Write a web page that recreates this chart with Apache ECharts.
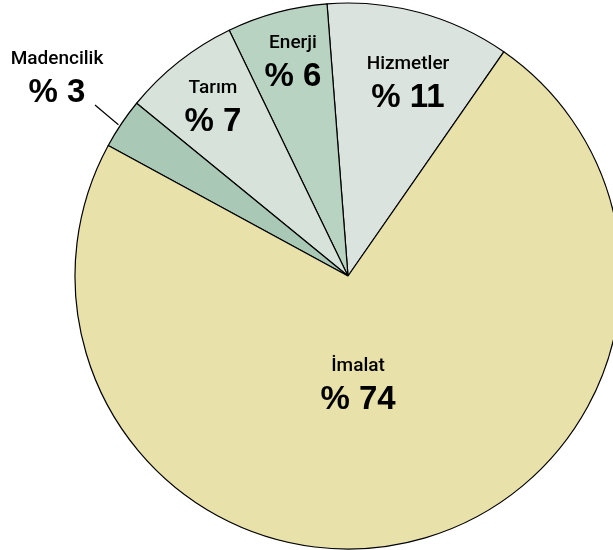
<!DOCTYPE html>
<html>
<head>
    <meta charset="utf-8">
    <script src="https://cdn.jsdelivr.net/npm/echarts@6/dist/echarts.min.js"></script>
</head>
<body style="margin:0;background:#fff;">
<div id="main" style="width: 613px;height:550px;"></div>
<script type="text/javascript">
    // sektör adları ve yüzdeleri (saat yönünün tersine, Hizmetler'den başlayarak)
    var sectors = ['Hizmetler', 'Enerji', 'Tarım', 'Madencilik', 'İmalat'];
    var shares = [11, 6, 7, 3, 74];
    var colors = ['#dae3dd', '#b9d3c3', '#d7e3da', '#a9c9b6', '#e8e1a9'];

    // etiket kutularının merkezleri
    var labelPos = [[408, 83], [293, 62], [213, 107], [57, 78], [358, 385]];

    var myChart = echarts.init(document.getElementById('main'));

    var data = sectors.map(function (name, i) {
        var item = {
            name: name,
            value: shares[i],
            itemStyle: { color: colors[i] }
        };
        if (name === 'Madencilik') {
            item.label = { position: 'outside' };
            item.labelLine = { show: true, length: 30, length2: 0, lineStyle: { color: '#000', width: 1.2 } };
        }
        return item;
    });

    option = {
        animation: false,
        series: [
            {
                type: 'pie',
                center: [348, 276],
                radius: [0, 273],
                startAngle: 55.2,
                clockwise: false,
                avoidLabelOverlap: false,
                itemStyle: { borderColor: '#000', borderWidth: 1.2 },
                emphasis: { disabled: true },
                label: {
                    show: true,
                    position: 'inside',
                    align: 'center',
                    verticalAlign: 'middle',
                    formatter: function (p) {
                        return '{n|' + p.name + '}\n{v|% ' + p.value + '}';
                    },
                    rich: {
                        n: { fontFamily: 'Roboto', fontSize: 19, fontWeight: 500, color: '#000', lineHeight: 30, align: 'center' },
                        v: { fontFamily: 'Liberation Sans', fontSize: 33, fontWeight: 'bold', color: '#000', lineHeight: 38, align: 'center' }
                    }
                },
                labelLine: { show: false },
                labelLayout: function (p) {
                    var pos = labelPos[p.dataIndex];
                    var res = { x: pos[0], y: pos[1], align: 'center', verticalAlign: 'middle' };
                    if (sectors[p.dataIndex] === 'Madencilik' && p.labelLinePoints) {
                        // çizgi dilim kenarından etiketin sağ altına
                        var a = p.labelLinePoints[0];
                        var start = [a[0] - 3, a[1] + 1];
                        var end = [pos[0] + 38, pos[1] + 27];
                        res.labelLinePoints = [start, end, end];
                    }
                    return res;
                },
                data: data
            }
        ]
    };

    myChart.setOption(option);
</script>
</body>
</html>
